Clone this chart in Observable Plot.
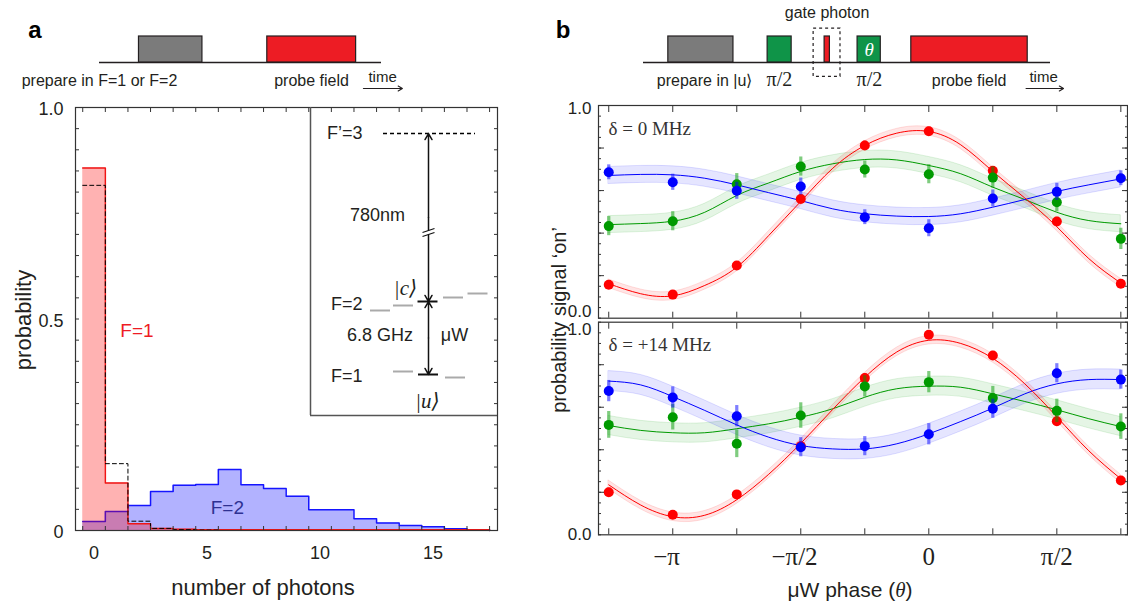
<!DOCTYPE html>
<html>
<head>
<meta charset="utf-8">
<script src="https://cdn.jsdelivr.net/npm/d3@7"></script>
<script src="https://cdn.jsdelivr.net/npm/@observablehq/plot@0.6"></script>
<style>
  html,body{margin:0;padding:0;background:#fff;}
  #fig{position:relative;width:1128px;height:605px;overflow:hidden;background:#fff;font-family:'Liberation Sans',Arial,sans-serif;color:#231f20;}
  #fig svg{overflow:visible;}
</style>
</head>
<body>
<div id="fig"></div>
<script>
const sans = "Liberation Sans, Arial, Helvetica, sans-serif";
const serif = "Liberation Serif, Times New Roman, DejaVu Serif, serif";
const ink = "#231f20";

/* ---------------- panel a : photon-number histograms ---------------- */
const photonNumber = [0,1,2,3,4,5,6,7,8,9,10,11,12,13,14,15,16,17];
const probF1      = [0.857,0.112,0.016,0.005,0.003,0.002,0.002,0.002,0.002,0.002,0.002,0.002,0.002,0.002,0.002,0.002,0.002,0.002];
const probF1Model = [0.816,0.158,0.022,0.005,0.002,0.001,0,0,0,0,0,0,0,0,0,0,0,0];
const probF2      = [0.021,0.045,0.059,0.092,0.107,0.109,0.144,0.108,0.099,0.081,0.049,0.049,0.028,0.018,0.012,0.009,0.004,0.001];
const photonTicks = [0,5,10,15];
const probTicks = [0,0.5,1];
const probTickLabels = ["0","0.5","1.0"];
const histLabels = ["F=1","F=2"];
const histLabelN = [1.9,5.9];
const histLabelP = [0.473,0.054];
const histLabelColors = ["#ee1c24","#2e3192"];

/* ---------------- panel b : Ramsey fringes (phase in units of π) ---------------- */
const phase = [-1.25,-1,-0.75,-0.5,-0.25,0,0.25,0.5,0.75];
const phaseTickValues = [-1,-0.5,0,0.5];
const phaseTickLabels = ["−π\u2002","−π/2\u2002","0","π/2"];
const probTickValuesB = [0,1];
const probTickLabelsB = ["0.0","1.0"];

// delta = 0 MHz
const red0   = [0.157,0.111,0.248,0.560,0.812,0.879,0.693,0.455,0.162];
const green0 = [0.433,0.456,0.630,0.713,0.699,0.677,0.661,0.545,0.373];
const blue0  = [0.686,0.639,0.599,0.619,0.475,0.423,0.563,0.594,0.658];
const red0Err   = [0.018,0.015,0.018,0.02,0.022,0.02,0.02,0.02,0.018];
const green0Err = [0.045,0.045,0.05,0.045,0.04,0.045,0.05,0.045,0.05];
const blue0Err  = [0.035,0.038,0.04,0.04,0.035,0.04,0.04,0.04,0.035];
// delta = +14 MHz
const red14   = [0.200,0.094,0.190,0.417,0.737,0.941,0.843,0.534,0.255];
const green14 = [0.517,0.553,0.428,0.561,0.698,0.718,0.643,0.583,0.509];
const blue14  = [0.676,0.646,0.558,0.412,0.417,0.473,0.593,0.760,0.730];
const red14Err   = [0.02,0.015,0.018,0.02,0.022,0.02,0.02,0.022,0.02];
const green14Err = [0.063,0.06,0.065,0.06,0.05,0.05,0.055,0.055,0.06];
const blue14Err  = [0.05,0.05,0.05,0.045,0.045,0.05,0.045,0.045,0.045];

// fitted curves
const fitPhase = [-1.25,-1.125,-1,-0.875,-0.75,-0.625,-0.5,-0.375,-0.25,-0.125,0,0.125,0.25,0.375,0.5,0.625,0.75];
const fitRed0   = [0.162,0.115,0.105,0.154,0.240,0.389,0.549,0.705,0.812,0.870,0.878,0.815,0.690,0.565,0.430,0.280,0.165];
const fitGreen0 = [0.440,0.445,0.456,0.498,0.577,0.636,0.690,0.726,0.746,0.744,0.718,0.679,0.616,0.558,0.498,0.459,0.444];
const fitBlue0  = [0.671,0.676,0.674,0.658,0.627,0.590,0.553,0.514,0.491,0.480,0.478,0.491,0.522,0.558,0.596,0.627,0.655];
const fitRed14   = [0.235,0.140,0.085,0.092,0.165,0.285,0.430,0.590,0.741,0.860,0.915,0.900,0.830,0.710,0.555,0.395,0.263];
const fitGreen14 = [0.514,0.491,0.480,0.480,0.499,0.522,0.553,0.593,0.647,0.687,0.699,0.694,0.663,0.627,0.588,0.546,0.509];
const fitBlue14  = [0.723,0.705,0.650,0.585,0.517,0.459,0.420,0.404,0.404,0.428,0.475,0.533,0.596,0.663,0.710,0.730,0.730];
const bandHalfWidth0  = {red:0.02, green:0.04, blue:0.04};
const bandHalfWidth14 = {red:0.02, green:0.045, blue:0.047};
const panelTags = ["δ = 0 MHz","δ = +14 MHz"];

/* ---------------- timing schematics (arbitrary time units) ---------------- */
const seqAStart = [1.4, 5.95], seqAEnd = [3.65, 9.1], seqAColor = ["#7b7b7b","#ed1c24"];
const seqALabels = ["prepare in F=1 or F=2","probe field"], seqALabelT = [0, 7.52], seqALabelAnchor = ["start","middle"];
const seqBStart = [0.61, 3.05, 4.45, 5.26, 6.58], seqBEnd = [2.21, 3.64, 4.58, 5.83, 9.44];
const seqBColor = ["#7b7b7b","#0f9448","#ed1c24","#0f9448","#ed1c24"];
const seqBTextLabels = ["prepare in |u⟩","probe field"], seqBTextT = [1.5, 8.0];
const seqBPulseLabels = ["π/2","π/2"], seqBPulseT = [3.34, 5.55];
const gateWindowT = [4.18, 4.84], gateWindowLevel = [-0.55, 1.3];

/* ---------------- level scheme (diagram units) ---------------- */
const levelNames = ["F’=3","F=2","F=1"], levelNameE = [282,111,39];
const excitedLevelX = [73,165], excitedLevelE = 282;
const f2SubX = [70,93,117.5,143,167.5], f2SubE = [105,110,114,118,122], f2SubM = [-2,-1,0,1,2];
const f1SubX = [93,118,145], f1SubE = [44,41,38], f1SubM = [-1,0,1];
const transitionX = 118;
const transitions = [{lo:114, hi:282}, {lo:41, hi:114}];
const schemeTexts = ["780nm","6.8 GHz","μW"];
const schemeTextX = [67, 69.5, 144], schemeTextE = [200, 80, 80];
const stateKets = ["|c⟩","|u⟩"];
const stateKetX = [95, 117], stateKetE = [127, 14];

/* ======================= helpers ======================= */
const fig = document.getElementById("fig");
function addPlot(plot, left, top, w) {
  const d = document.createElement("div");
  d.style.cssText = `position:absolute;left:${left}px;top:${top}px;width:${w}px;`;
  d.appendChild(plot); fig.appendChild(d);
}
function addText(html, cx, cy, css, rotate) {
  const d = document.createElement("div");
  d.innerHTML = html;
  d.style.cssText = `position:absolute;left:${cx}px;top:${cy}px;white-space:nowrap;line-height:1.15;transform:translate(-50%,-50%)${rotate ? " rotate(-90deg)" : ""};${css}`;
  fig.appendChild(d);
}
const lastN = photonNumber[photonNumber.length - 1];
function areaSteps(vals) {
  return photonNumber.map((n, i) => ({n: n - 0.5, p: vals[i]})).concat([{n: lastN + 0.5, p: vals[vals.length - 1]}]);
}
function lineSteps(vals) {
  return areaSteps(vals).concat([{n: lastN + 0.5, p: 0}]);
}
const minorProb = d3.range(0, 1.0001, 0.05);
const majorProb = [0.2, 0.4, 0.6, 0.8];

/* ======================= panel a histogram ======================= */
const binEdges = photonNumber.map(n => n - 0.5).concat([lastN + 0.5]);
const histPlot = Plot.plot({
  width: 520, height: 510,
  marginLeft: 75, marginRight: 23, marginTop: 12, marginBottom: 75,
  x: {domain: [-0.82, 17.85]},
  y: {domain: [0, 1]},
  style: {background: "transparent", fontFamily: sans, color: ink, overflow: "visible"},
  marks: [
    Plot.areaY(areaSteps(probF2), {x: "n", y1: 0, y2: "p", curve: "step-after", fill: "#0000ff", fillOpacity: 0.3}),
    Plot.line(lineSteps(probF2), {x: "n", y: "p", curve: "step-after", stroke: "#1515ff", strokeWidth: 1.5}),
    Plot.areaY(areaSteps(probF1), {x: "n", y1: 0, y2: "p", curve: "step-after", fill: "#ff0000", fillOpacity: 0.3}),
    Plot.line(lineSteps(probF1), {x: "n", y: "p", curve: "step-after", stroke: "#f01515", strokeWidth: 1.5}),
    Plot.line(lineSteps(probF1Model), {x: "n", y: "p", curve: "step-after", stroke: "#000", strokeWidth: 1, strokeDasharray: "4,3"}),
    Plot.text(histLabels, {x: (d, i) => histLabelN[i], y: (d, i) => histLabelP[i], text: d => d, fill: (d, i) => histLabelColors[i], fontSize: 19, fontFamily: sans}),
    Plot.frame({stroke: "#333", strokeWidth: 1.2}),
    Plot.axisX({anchor: "bottom", ticks: binEdges, tickSize: -4, tickFormat: () => "", label: null, stroke: "#333"}),
    Plot.axisX({anchor: "top", ticks: binEdges, tickSize: -4, tickFormat: () => "", label: null, stroke: "#333"}),
    Plot.axisY({anchor: "left", ticks: minorProb, tickSize: -4, tickFormat: () => "", label: null, stroke: "#333"}),
    Plot.axisY({anchor: "right", ticks: minorProb, tickSize: -4, tickFormat: () => "", label: null, stroke: "#333"}),
    Plot.axisX({anchor: "bottom", ticks: photonTicks, tickSize: 0, tickPadding: 16, fontSize: 18, fontFamily: sans, label: null, fill: ink}),
    Plot.axisY({anchor: "left", ticks: probTicks, tickSize: 0, tickPadding: 12, dy: 2, fontSize: 18, fontFamily: sans, label: null, fill: ink,
      tickFormat: d => probTickLabels[probTicks.indexOf(d)]})
  ]
});
addPlot(histPlot, 0, 95, 520);

/* ======================= level-scheme inset ======================= */
const f2Sub = f2SubX.map((x, i) => ({x, e: f2SubE[i], m: f2SubM[i]}));
const f1Sub = f1SubX.map((x, i) => ({x, e: f1SubE[i], m: f1SubM[i]}));
const arrowSegs = transitions.flatMap(t => {
  const mid = (t.lo + t.hi) / 2;
  return [{y1: mid, y2: t.hi}, {y1: mid, y2: t.lo}];
});
const breakE = 183;
const insetPlot = Plot.plot({
  width: 187, height: 308, margin: 0,
  x: {domain: [0, 187], axis: null}, y: {domain: [0, 308], axis: null},
  style: {background: "transparent", fontFamily: sans, color: ink, overflow: "visible"},
  marks: [
    Plot.ruleX([0], {stroke: "#555", strokeWidth: 1.5}),
    Plot.ruleY([0], {stroke: "#555", strokeWidth: 1.5}),
    Plot.ruleY([excitedLevelE], {x1: excitedLevelX[0], x2: excitedLevelX[1], stroke: "#000", strokeWidth: 1.5, strokeDasharray: "4,3"}),
    Plot.ruleY(f2Sub, {y: "e", x1: d => d.x - 10, x2: d => d.x + 10, stroke: d => d.m === 0 ? "#111" : "#aaaaaa", strokeWidth: 2}),
    Plot.ruleY(f1Sub, {y: "e", x1: d => d.x - 10, x2: d => d.x + 10, stroke: d => d.m === 0 ? "#111" : "#aaaaaa", strokeWidth: 2}),
    Plot.arrow(arrowSegs, {x1: transitionX, x2: transitionX, y1: "y1", y2: "y2", stroke: "#111", strokeWidth: 1.5, headLength: 7}),
    Plot.ruleY([breakE], {x1: transitionX - 3, x2: transitionX + 3, stroke: "#fff", strokeWidth: 4}),
    Plot.link([-2, 2], {x1: transitionX - 6, x2: transitionX + 6, y1: d => breakE + d - 2, y2: d => breakE + d + 2, stroke: "#111", strokeWidth: 1.3}),
    Plot.text(levelNames, {x: 52, y: (d, i) => levelNameE[i], text: d => d, textAnchor: "end", fontSize: 18, fontFamily: sans, fill: ink}),
    Plot.text(schemeTexts, {x: (d, i) => schemeTextX[i], y: (d, i) => schemeTextE[i], text: d => d, fontSize: 18, fontFamily: sans, fill: ink}),
    Plot.text(stateKets, {x: (d, i) => stateKetX[i], y: (d, i) => stateKetE[i], text: d => d, fontSize: 21, fontFamily: serif, fontStyle: "italic", fill: ink})
  ]
});
addPlot(insetPlot, 310, 107, 187);

/* ======================= timing schematics ======================= */
function seqPlot({width, ml, mr, boxes, extra}) {
  return Plot.plot({
    width, height: 100, marginLeft: ml, marginRight: mr, marginTop: 4.8, marginBottom: 6.8,
    x: {domain: [0, 10], axis: null}, y: {domain: [-1.2, 2.2], axis: null},
    style: {background: "transparent", fontFamily: sans, color: ink, overflow: "visible"},
    marks: [
      Plot.ruleY([0], {x1: 0, x2: 10, stroke: ink, strokeWidth: 1.3}),
      Plot.rect(boxes, {x1: "s", x2: "e", y1: 0, y2: 1, fill: "c", stroke: ink, strokeWidth: 1.2}),
      ...extra
    ]
  });
}
const seqA = seqAStart.map((s, i) => ({s, e: seqAEnd[i], c: seqAColor[i]}));
const seqAPlot = seqPlot({
  width: 540, ml: 99, mr: 159, boxes: seqA,
  extra: [
    Plot.text(seqALabels, {x: (d, i) => seqALabelT[i], y: -0.69, text: d => d, textAnchor: (d, i) => seqALabelAnchor[i], fontSize: 16, fontFamily: sans, fill: ink}),
    Plot.text(["time"], {x: 10.04, y: -0.55, text: d => d, fontSize: 15, fontFamily: sans, fill: ink}),
    Plot.arrow([0], {x1: 9.36, x2: 10.74, y1: -1.0, y2: -1.0, stroke: ink, strokeWidth: 1.2, headLength: 6})
  ]
});
addPlot(seqAPlot, 0, 0, 540);

const seqB = seqBStart.map((s, i) => ({s, e: seqBEnd[i], c: seqBColor[i]}));
const seqBPlot = seqPlot({
  width: 588, ml: 103, mr: 78, boxes: seqB,
  extra: [
    Plot.rect([0], {x1: gateWindowT[0], x2: gateWindowT[1], y1: gateWindowLevel[0], y2: gateWindowLevel[1], fill: "none", stroke: ink, strokeWidth: 1.2, strokeDasharray: "3,3"}),
    Plot.text(["gate photon"], {x: (gateWindowT[0] + gateWindowT[1]) / 2, y: 1.92, text: d => d, fontSize: 16, fontFamily: sans, fill: ink}),
    Plot.text(["θ"], {x: (seqBStart[3] + seqBEnd[3]) / 2, y: 0.5, text: d => d, fontSize: 19, fontFamily: serif, fontStyle: "italic", fill: "#fff"}),
    Plot.text(seqBTextLabels, {x: (d, i) => seqBTextT[i], y: -0.69, text: d => d, fontSize: 16, fontFamily: sans, fill: ink}),
    Plot.text(seqBPulseLabels, {x: (d, i) => seqBPulseT[i], y: -0.66, text: d => d, fontSize: 20, fontFamily: serif, fill: ink}),
    Plot.text(["time"], {x: 9.83, y: -0.55, text: d => d, fontSize: 15, fontFamily: sans, fill: ink}),
    Plot.arrow([0], {x1: 9.4, x2: 10.32, y1: -1.0, y2: -1.0, stroke: ink, strokeWidth: 1.2, headLength: 6})
  ]
});
addPlot(seqBPlot, 540, 0, 588);

/* ======================= panel b fringes ======================= */
const colors = {red: "#ff0000", green: "#009a00", blue: "#0000ff"};
function series(vals, errs) { return phase.map((t, i) => ({t, p: vals[i], e: errs[i]})); }
function fit(vals) { return fitPhase.map((t, i) => ({t, p: vals[i]})); }

function phasePanel({pts, fits, hw, tag, height, mt, mb, dyTop, dyBottom, xLabels}) {
  const marks = [];
  const order = ["green", "blue", "red"];
  for (const s of order) marks.push(Plot.areaY(fits[s], {x: "t", y1: d => d.p - hw[s], y2: d => d.p + hw[s], curve: "natural",
    fill: colors[s], fillOpacity: 0.1, stroke: colors[s], strokeOpacity: 0.12}));
  for (const s of order) marks.push(Plot.line(fits[s], {x: "t", y: "p", curve: "natural", stroke: colors[s], strokeWidth: 1}));
  for (const s of ["red", "green", "blue"]) {
    marks.push(Plot.ruleX(pts[s], {x: "t", y1: d => d.p - d.e, y2: d => d.p + d.e, stroke: colors[s], strokeOpacity: 0.5, strokeWidth: 3.2}));
    marks.push(Plot.dot(pts[s], {x: "t", y: "p", r: 5, fill: colors[s]}));
  }
  marks.push(
    Plot.text([tag], {frameAnchor: "top-left", dx: 10, dy: 23, text: d => d, textAnchor: "start", lineAnchor: "middle", fontSize: 19, fontFamily: serif, fill: "#333"}),
    Plot.frame({stroke: "#333", strokeWidth: 1.2}),
    Plot.axisX({anchor: "top", ticks: phase, tickSize: -6, tickFormat: () => "", label: null, stroke: "#333"}),
    Plot.axisX({anchor: "bottom", ticks: phase, tickSize: -6, tickFormat: () => "", label: null, stroke: "#333"}),
    Plot.axisY({anchor: "left", ticks: minorProb, tickSize: -3, tickFormat: () => "", label: null, stroke: "#333"}),
    Plot.axisY({anchor: "right", ticks: minorProb, tickSize: -3, tickFormat: () => "", label: null, stroke: "#333"}),
    Plot.axisY({anchor: "left", ticks: majorProb, tickSize: -6, tickFormat: () => "", label: null, stroke: "#333"}),
    Plot.axisY({anchor: "right", ticks: majorProb, tickSize: -6, tickFormat: () => "", label: null, stroke: "#333"}),
    Plot.axisY({anchor: "left", ticks: [1], tickSize: 0, tickPadding: 7, dy: dyTop, fontSize: 17, fontFamily: sans, label: null, fill: ink,
      tickFormat: d => probTickLabelsB[probTickValuesB.indexOf(d)]}),
    Plot.axisY({anchor: "left", ticks: [0], tickSize: 0, tickPadding: 7, dy: dyBottom, fontSize: 17, fontFamily: sans, label: null, fill: ink,
      tickFormat: d => probTickLabelsB[probTickValuesB.indexOf(d)]})
  );
  if (xLabels) marks.push(Plot.axisX({anchor: "bottom", ticks: phaseTickValues, tickSize: 0, tickPadding: 12, fontSize: 25, fontFamily: serif, label: null, fill: ink,
    tickFormat: d => phaseTickLabels[phaseTickValues.indexOf(d)]}));
  return Plot.plot({
    width: 608, height, marginLeft: 78, marginRight: 1, marginTop: mt, marginBottom: mb,
    x: {domain: [-1.290, 0.776]}, y: {domain: [0, 1]},
    style: {background: "transparent", fontFamily: sans, color: ink, overflow: "visible"},
    marks
  });
}
const topPanel = phasePanel({
  pts: {red: series(red0, red0Err), green: series(green0, green0Err), blue: series(blue0, blue0Err)},
  fits: {red: fit(fitRed0), green: fit(fitGreen0), blue: fit(fitBlue0)},
  hw: bandHalfWidth0, tag: panelTags[0], height: 230, mt: 10, mb: 7.3, dyTop: 3.5, dyBottom: -6.5, xLabels: false
});
addPlot(topPanel, 520, 95, 608);
const bottomPanel = phasePanel({
  pts: {red: series(red14, red14Err), green: series(green14, green14Err), blue: series(blue14, blue14Err)},
  fits: {red: fit(fitRed14), green: fit(fitGreen14), blue: fit(fitBlue14)},
  hw: bandHalfWidth14, tag: panelTags[1], height: 287, mt: 3.7, mb: 70.7, dyTop: 7, dyBottom: 0, xLabels: true
});
addPlot(bottomPanel, 520, 318, 608);

/* ======================= titles & labels ======================= */
addText("a", 35, 30, "font-weight:bold;font-size:24px;color:#000;");
addText("b", 563, 30, "font-weight:bold;font-size:24px;color:#000;");
addText("probability", 24, 320, "font-size:22px;", true);
addText("number of photons", 263, 588, "font-size:22px;");
addText("probability signal ‘on’", 559, 320, "font-size:20px;", true);
addText("μW phase (<i style=\"font-family:'Liberation Serif',serif;\">θ</i>)", 850, 590, "font-size:21px;");
</script>
</body>
</html>
